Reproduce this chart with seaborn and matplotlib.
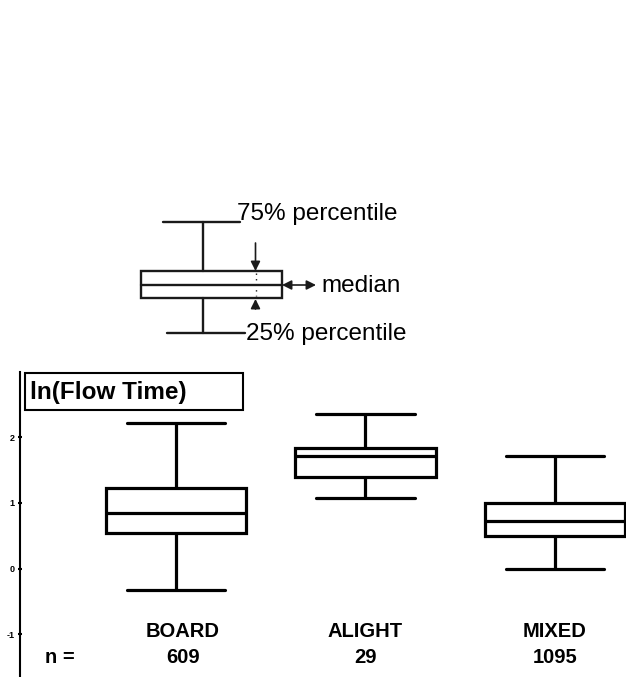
import numpy as np
import pandas as pd
import matplotlib
matplotlib.use("Agg")
import matplotlib.pyplot as plt
from matplotlib.patches import Rectangle
import seaborn as sns

# ---- data ----
groups = ["BOARD", "ALIGHT", "MIXED"]
counts = [609, 29, 1095]
whisker_low = [-0.33, 1.07, 0.00]
q1 = [0.54, 1.40, 0.49]
median = [0.85, 1.71, 0.73]
q3 = [1.23, 1.83, 0.99]
whisker_high = [2.22, 2.35, 1.71]
yticks = [-1, 0, 1, 2]
title_text = "ln(Flow Time)"

sns.set_theme(style="white")
plt.rcParams["font.family"] = ["Liberation Sans", "DejaVu Sans"]
plt.rcParams["text.color"] = "black"
plt.rcParams["ytick.color"] = "black"
plt.rcParams["axes.labelcolor"] = "black"

df = pd.DataFrame({
    "group": np.repeat(groups, 5),
    "value": np.ravel(np.column_stack([whisker_low, q1, median, q3, whisker_high])),
})

fig = plt.figure(figsize=(6.26, 6.77), dpi=100)
W, H = 626, 677

# key (explanatory diagram) in pixel coordinates
key = fig.add_axes([0, 0, 1, 1], zorder=0)
key.set_xlim(0, W)
key.set_ylim(H, 0)
key.axis("off")

ax = fig.add_axes([20 / W, 0, 606 / W, 305 / H], zorder=1)
ax.patch.set_alpha(0)

sns.boxplot(data=df, x="group", y="value", order=groups, whis=(0, 100),
            width=0.74, color="white", linecolor="black", linewidth=2.3,
            showfliers=False, capwidths=0.52, ax=ax)

ax.set_xlim(-0.823, 2.375)
ax.set_ylim(-1.651, 2.991)
ax.set_xticks([])
ax.set_xlabel("")
ax.set_ylabel("")
ax.set_yticks(yticks)
ax.set_yticklabels([str(t) for t in yticks], fontsize=6.5, fontweight="bold", color="black")
ax.tick_params(axis="y", direction="inout", length=3, width=1.5, pad=2.5, left=True,
               colors="black")
for s in ["top", "right", "bottom"]:
    ax.spines[s].set_visible(False)
ax.spines["left"].set_linewidth(1.5)
ax.spines["left"].set_color("black")

# category labels and counts
for i, (g, n) in enumerate(zip(groups, counts)):
    ax.text(i + (0.035 if i == 0 else 0), -0.951, g, ha="center", va="center",
            fontsize=14.5, fontweight="bold", color="black")
    ax.text(i + (0.035 if i == 0 else 0), -1.347, str(n), ha="center", va="center",
            fontsize=14.5, fontweight="bold", color="black")
ax.text(-0.61, -1.347, "n =", ha="center", va="center", fontsize=14.5,
        fontweight="bold", color="black")

# title box
ax.add_patch(Rectangle((0.00825, 0.8754), 0.3597, 0.1213, transform=ax.transAxes,
                       fill=False, lw=1.5, ec="black", clip_on=False))
ax.text(0.0165, 0.934, title_text, transform=ax.transAxes, ha="left", va="center",
        fontsize=17.5, fontweight="bold", color="black")

# ---- key drawing ----
lk = 1.7
key.plot([163, 240], [221.5, 221.5], color="k", lw=lk)
key.plot([203, 203], [221.5, 271], color="k", lw=lk)
key.add_patch(Rectangle((141, 271), 140.5, 27, fc="white", ec="k", lw=lk))
key.plot([141, 281.5], [285, 285], color="k", lw=lk)
key.plot([203, 203], [298, 333], color="k", lw=lk)
key.plot([167, 245], [333, 333], color="k", lw=lk)
key.plot([255.5, 255.5], [273, 296], color="k", lw=1, ls=(0, (1, 3)))
ap = dict(arrowstyle="-|>", lw=1.2, color="k", mutation_scale=14, shrinkA=0, shrinkB=0)
key.annotate("", xy=(255.5, 271), xytext=(255.5, 243), arrowprops=ap)
key.annotate("", xy=(255.5, 299), xytext=(255.5, 309), arrowprops=ap)
ap2 = dict(arrowstyle="<|-|>", lw=1.2, color="k", mutation_scale=14, shrinkA=0, shrinkB=0)
key.annotate("", xy=(282, 285), xytext=(316, 285), arrowprops=ap2)
key.text(237, 220, "75% percentile", ha="left", va="baseline", fontsize=17.5, color="black")
key.text(321, 286, "median", ha="left", va="center", fontsize=17.5, color="black")
key.text(246, 334, "25% percentile", ha="left", va="center", fontsize=17.5, color="black")

fig.savefig("out.png", dpi=100)
